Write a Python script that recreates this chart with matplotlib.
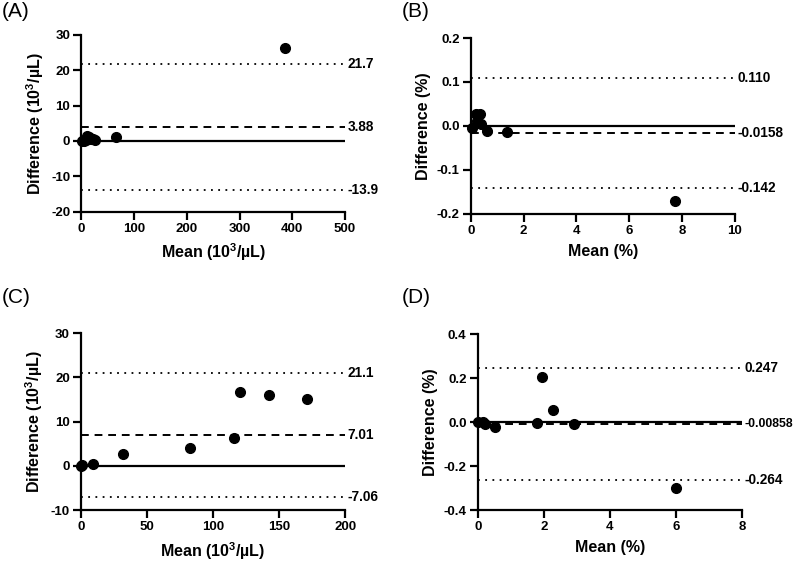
import numpy as np
import matplotlib
matplotlib.use("Agg")
import matplotlib.pyplot as plt
import matplotlib.transforms as mtransforms

plt.rcParams['font.family'] = ['Liberation Sans', 'DejaVu Sans']
plt.rcParams['font.weight'] = 'bold'
plt.rcParams['mathtext.fontset'] = 'custom'
plt.rcParams['mathtext.rm'] = 'Liberation Sans:bold'
plt.rcParams['mathtext.bf'] = 'Liberation Sans:bold'

# (A) counts, 10^3/uL
a_mean = [2, 5, 8, 11, 14, 18, 22, 26, 65, 386]
a_diff = [0.0, -0.1, 0.2, 1.3, 1.0, 0.7, 0.6, 0.4, 1.2, 26.2]
a_lines = [21.7, 3.88, -13.9]

# (B) percent
b_mean = [0.06, 0.19, 0.35, 0.25, 0.40, 0.63, 1.36, 7.74]
b_diff = [-0.004, 0.027, 0.027, 0.012, 0.005, -0.011, -0.014, -0.170]
b_lines = [0.110, -0.0158, -0.142]

# (C) counts, 10^3/uL
c_mean = [0, 0.5, 9.1, 31.8, 82.6, 115.7, 120.7, 142.4, 171.5]
c_diff = [0.0, 0.1, 0.4, 2.75, 4.0, 6.3, 16.7, 16.0, 15.1]
c_lines = [21.1, 7.01, -7.06]

# (D) percent
d_mean = [0.0, 0.17, 0.23, 0.52, 1.79, 1.95, 2.29, 2.90, 5.99]
d_diff = [0.0, -0.002, -0.010, -0.021, -0.005, 0.205, 0.055, -0.011, -0.301]
d_lines = [0.247, -0.00858, -0.264]

cnt_x = r'Mean (10$^{3}$/µL)'
cnt_y = r'Difference (10$^{3}$/µL)'

panels = [
    ("(A)", a_mean, a_diff, a_lines, ["21.7", "3.88", "-13.9"],
     (0, 500), np.arange(0, 501, 100), (-20, 30), np.arange(-20, 31, 10), "%d",
     cnt_x, cnt_y, [0.102, 0.624, 0.331, 0.314], (0.002, 0.979)),
    ("(B)", b_mean, b_diff, b_lines, ["0.110", "-0.0158", "-0.142"],
     (0, 10), np.arange(0, 11, 2), (-0.2, 0.2), np.arange(-0.2, 0.21, 0.1), "%.1f",
     "Mean (%)", "Difference (%)", [0.5906, 0.620, 0.3316, 0.3125], (0.504, 0.979)),
    ("(C)", c_mean, c_diff, c_lines, ["21.1", "7.01", "-7.06"],
     (0, 200), np.arange(0, 201, 50), (-10, 30), np.arange(-10, 31, 10), "%d",
     cnt_x, cnt_y, [0.1016, 0.0941, 0.3314, 0.314], (0.002, 0.471)),
    ("(D)", d_mean, d_diff, d_lines, ["0.247", "-0.00858", "-0.264"],
     (0, 8), np.arange(0, 9, 2), (-0.4, 0.4), np.arange(-0.4, 0.41, 0.2), "%.1f",
     "Mean (%)", "Difference (%)", [0.5994, 0.0941, 0.3316, 0.3126], (0.504, 0.471)),
]

fig = plt.figure(figsize=(7.97, 5.63), dpi=100)

for tag, xs, ys, lines, labs, xl, xt, yl, yt, fmt, xlab, ylab, pos, tpos in panels:
    ax = fig.add_axes(pos)
    ax.set_xlim(xl)
    ax.set_ylim(yl)
    ax.axhline(0, color='black', lw=1.6, zorder=1)
    ax.axhline(lines[1], color='black', lw=1.4, ls=(0, (4, 3)), zorder=1)
    ax.axhline(lines[0], color='black', lw=1.3, ls=(0, (1, 3)), zorder=1)
    ax.axhline(lines[2], color='black', lw=1.3, ls=(0, (1, 3)), zorder=1)
    ax.plot(xs, ys, 'o', color='black', ms=7, zorder=3, clip_on=False)
    trans = mtransforms.blended_transform_factory(ax.transAxes, ax.transData)
    for v, s in zip(lines, labs):
        fs = 9.8 if len(s) <= 7 else 8.8
        ax.text(1.01, v, s, transform=trans, ha='left', va='center',
                fontsize=fs, fontweight='bold')
    ax.set_xticks(xt)
    ax.set_yticks(yt)
    ax.set_yticklabels([fmt % v for v in yt])
    for sp in ['top', 'right']:
        ax.spines[sp].set_visible(False)
    for sp in ['left', 'bottom']:
        ax.spines[sp].set_linewidth(1.6)
    ax.tick_params(direction='out', length=6, width=1.6, labelsize=9.5, pad=2)
    for t in ax.get_xticklabels() + ax.get_yticklabels():
        t.set_fontweight('bold')
    ax.set_xlabel(xlab, fontsize=11.5, fontweight='bold', labelpad=5)
    ax.set_ylabel(ylab, fontsize=11.5, fontweight='bold', labelpad=4)
    fig.text(tpos[0], tpos[1], tag, fontsize=15, fontweight='normal',
             ha='left', va='center')

fig.savefig("out.png", dpi=100)
